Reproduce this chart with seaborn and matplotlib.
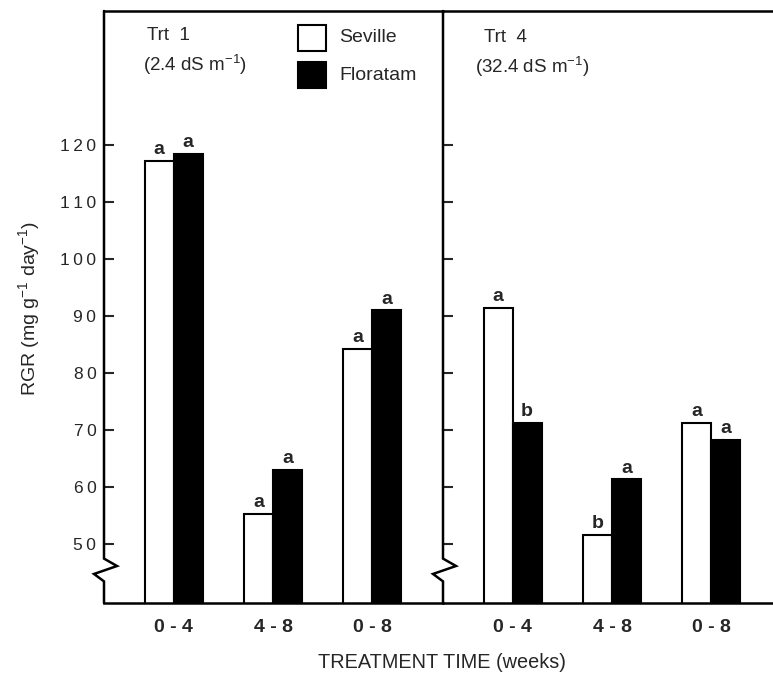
import matplotlib
matplotlib.use("Agg")
import matplotlib.pyplot as plt
import matplotlib.transforms as mtransforms
from matplotlib.patches import Rectangle
from matplotlib.lines import Line2D
import numpy as np
import pandas as pd
import seaborn as sns

# ---------------- data ----------------
periods = ["0 - 4", "4 - 8", "0 - 8"]
cultivars = ["Seville", "Floratam"]
trt1_seville = [117.3, 55.3, 84.2]
trt1_floratam = [118.5, 63.0, 91.0]
trt4_seville = [91.5, 51.5, 71.3]
trt4_floratam = [71.3, 61.3, 68.2]
trt1_letters_seville = ["a", "a", "a"]
trt1_letters_floratam = ["a", "a", "a"]
trt4_letters_seville = ["a", "b", "a"]
trt4_letters_floratam = ["b", "a", "a"]
yticks = [50, 60, 70, 80, 90, 100, 110, 120]
panel_titles = ["Trt  1", "Trt  4"]
panel_subtitles = [r"(2.4 dS m$^{-1}$)", r"(32.4 dS m$^{-1}$)"]

sns.set_style("white")
plt.rcParams["font.family"] = ["Liberation Sans", "DejaVu Sans"]
plt.rcParams["mathtext.fontset"] = "custom"
plt.rcParams["mathtext.rm"] = "Liberation Sans"
plt.rcParams["mathtext.it"] = "Liberation Sans:italic"
plt.rcParams["mathtext.bf"] = "Liberation Sans:bold"

W, H = 773, 675
fig = plt.figure(figsize=(W / 100, H / 100), dpi=100)
fig.patch.set_facecolor("white")


def fx(x):
    return x / W


def fy(y):
    return 1 - y / H


top_px, bot_px = 11, 603
ax1 = fig.add_axes([fx(104), fy(bot_px), 339 / W, (bot_px - top_px) / H])
ax2 = fig.add_axes([fx(443), fy(bot_px), 339 / W, (bot_px - top_px) / H])

palette = {"Seville": "white", "Floratam": "black"}
YMIN, YMAX = 39.6, 143.6
LW = 1.8


def draw_panel(ax, sev, flo, let_s, let_f, show_labels):
    df = pd.DataFrame({
        "period": periods * 2,
        "cultivar": ["Seville"] * 3 + ["Floratam"] * 3,
        "RGR": sev + flo,
    })
    sns.barplot(data=df, x="period", y="RGR", hue="cultivar", order=periods,
                hue_order=cultivars, palette=palette, edgecolor="black",
                linewidth=1.5, width=0.584, ax=ax, legend=False, saturation=1)
    ax.set_xlim(-0.70, 2.71)
    ax.set_ylim(YMIN, YMAX)
    ax.set_yticks(yticks)
    if show_labels:
        ax.set_yticklabels(["\u2009".join(str(t)) for t in yticks], fontsize=12.5)
    else:
        ax.set_yticklabels([])
    ax.tick_params(axis="y", direction="in", length=7.2, width=1.5,
                   pad=5.5, left=True)
    ax.tick_params(axis="x", length=0, pad=11.5, labelsize=14)
    for lab in ax.get_xticklabels():
        lab.set_fontweight("bold")
    ax.set_xlabel("")
    ax.set_ylabel("")
    for side in ["left", "right"]:
        ax.spines[side].set_visible(False)
    for side in ["top", "bottom"]:
        ax.spines[side].set_visible(True)
        ax.spines[side].set_linewidth(LW)
        ax.spines[side].set_color("black")
    for cont, lets in zip(ax.containers, [let_s, let_f]):
        ax.bar_label(cont, labels=lets, padding=2, fontsize=14,
                     fontweight="bold")
    # left spine with axis-break zigzag
    trans = mtransforms.blended_transform_factory(ax.transAxes, ax.transData)
    xs = [0, 0, 13 / 339, -10 / 339, 0, 0]
    ys = [YMAX, 47.4, 46.1, 44.7, 43.4, YMIN]
    ax.add_line(Line2D(xs, ys, transform=trans, color="black", lw=LW,
                       clip_on=False, solid_joinstyle="miter"))
    ax.set_facecolor("none")


draw_panel(ax1, trt1_seville, trt1_floratam, trt1_letters_seville,
           trt1_letters_floratam, True)
draw_panel(ax2, trt4_seville, trt4_floratam, trt4_letters_seville,
           trt4_letters_floratam, False)

# panel titles
fig.text(fx(147), fy(35), panel_titles[0], fontsize=13.5, va="center", ha="left")
fig.text(fx(143), fy(65), panel_subtitles[0], fontsize=13.5, va="center", ha="left")
fig.text(fx(484), fy(37), panel_titles[1], fontsize=13.5, va="center", ha="left")
fig.text(fx(475), fy(67), panel_subtitles[1], fontsize=13.5, va="center", ha="left")

# legend
for (y0, y1), name in zip([(25, 51), (62, 88)], cultivars):
    fig.add_artist(Rectangle((fx(298), fy(y1)), 28 / W, (y1 - y0) / H,
                             transform=fig.transFigure, facecolor=palette[name],
                             edgecolor="black", lw=1.5))
    fig.text(fx(339), fy((y0 + y1) / 2), name, fontsize=14, va="center",
             ha="left")

# axis labels
fig.text(fx(29), fy(308), r"RGR (mg g$^{-1}$ day$^{-1}$)", rotation=90,
         fontsize=14, va="center", ha="center")
fig.text(fx(442), fy(662), "TREATMENT TIME (weeks)", fontsize=14.3,
         va="center", ha="center")

fig.savefig("out.png", dpi=100, facecolor="white")
